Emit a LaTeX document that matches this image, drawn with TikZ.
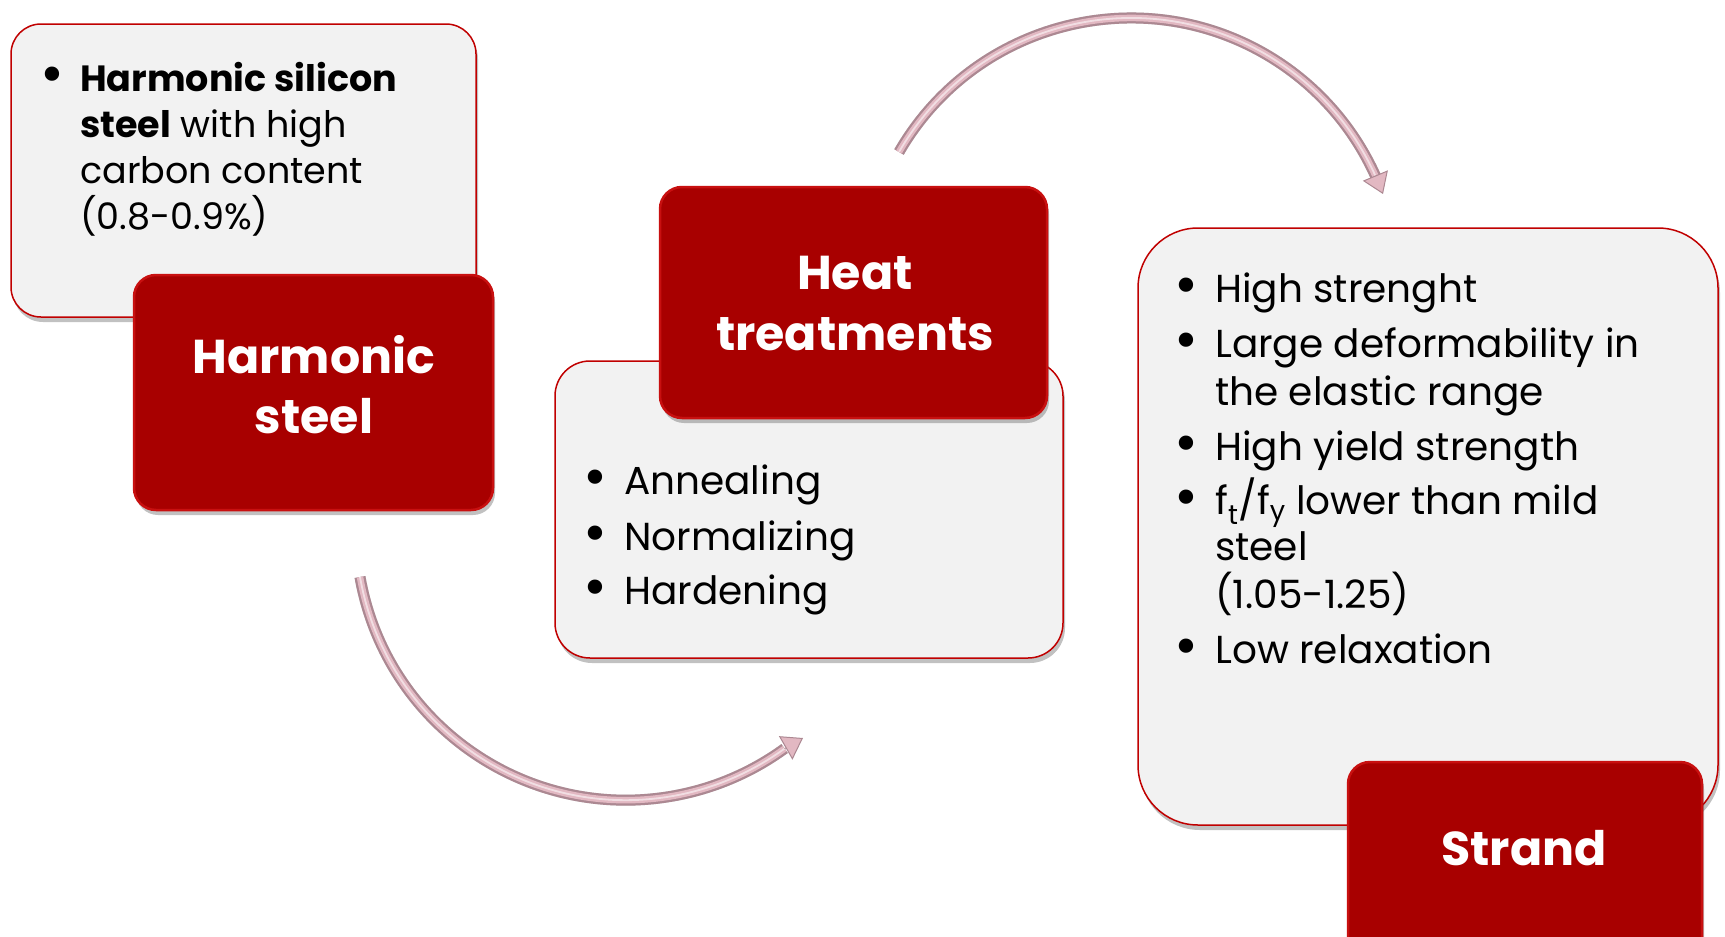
\documentclass[tikz,border=0pt]{standalone}
\usepackage{fontspec}
\setmainfont{Poppins}
\usetikzlibrary{shadows,arrows.meta}
\definecolor{boxfill}{RGB}{242,242,242}
\definecolor{boxline}{RGB}{192,0,0}
\definecolor{redfill}{RGB}{168,0,0}
\definecolor{redrim}{RGB}{200,16,16}
\definecolor{tubeout}{RGB}{172,136,146}
\definecolor{tubein}{RGB}{226,184,194}
\tikzset{
  lightbox/.style={fill=boxfill, draw=boxline, line width=1.5pt, inner sep=0pt,
    drop shadow={opacity=0.35, shadow xshift=2pt, shadow yshift=-5pt, fill=black!70}},
  redbox/.style={fill=redfill, draw=redrim, line width=2.5pt, inner sep=0pt, rounded corners=22pt,
    drop shadow={opacity=0.35, shadow xshift=2pt, shadow yshift=-5pt, fill=black!70}},
  ltxt/.style={anchor=base west, inner sep=0pt, font=\fontsize{39}{47}\selectfont},
  stxt/.style={anchor=base west, inner sep=0pt, font=\fontsize{36.5}{46}\selectfont},
  bdot/.style={anchor=base, inner sep=0pt, font=\fontsize{58}{58}\selectfont},
  redtxt/.style={anchor=base, inner sep=0pt, text=white, font=\fontsize{47.5}{60}\selectfont\bfseries},
  tubeshadow/.style={line width=11pt, draw=black, opacity=0.16, line cap=butt},
  tubeo/.style={line width=11pt, draw=tubeout, line cap=butt},
  tubei/.style={line width=6.5pt, draw=tubein, line cap=butt},
  tubeh/.style={line width=1.8pt, draw=white, opacity=0.55, line cap=butt},
  tubehead/.style={line width=1pt, draw=tubeout, -{Triangle[length=20pt, width=27pt, fill=tubein]}},
}
\begin{document}
\begin{tikzpicture}[x=1pt,y=-1pt]
\useasboundingbox (0,0) rectangle (1725,937);
\clip (0,0) rectangle (1725,937);

% ---------- arrows ----------
\coordinate (a1s) at (360,577);
\coordinate (a1t) at (803,738);
\coordinate (a2s) at (899,152);
\coordinate (a2t) at (1383,194);
\begin{scope}[xshift=3pt, yshift=-4pt]
  \draw[tubeshadow] (a1s) arc[start angle=170, end angle=54, radius=270];
  \draw[tubeshadow] (a2s) arc[start angle=210, end angle=336, radius=268];
\end{scope}
\draw[tubeo] (a1s) arc[start angle=170, end angle=54, radius=270] coordinate (a1e);
\draw[tubei] (a1s) arc[start angle=170, end angle=54, radius=270];
\draw[tubeh] (a1s) arc[start angle=170, end angle=54, radius=270];
\draw[tubehead] (a1e) -- (a1t);
\draw[tubeo] (a2s) arc[start angle=210, end angle=336, radius=268] coordinate (a2e);
\draw[tubei] (a2s) arc[start angle=210, end angle=336, radius=268];
\draw[tubeh] (a2s) arc[start angle=210, end angle=336, radius=268];
\draw[tubehead] (a2e) -- (a2t);

% ---------- box 1 ----------
\node[lightbox, rounded corners=30pt, minimum width=465pt, minimum height=293pt] (box1) at (243.5,170.5) {};
\node[redbox, minimum width=359pt, minimum height=235pt] (red1) at (313.5,392.5) {};
\node[bdot] (b1a) at (52,93) {\textbullet};
\node[stxt] (t1a) at (80,91) {\textbf{Harmonic silicon}};
\node[stxt] (t1b) at (80,137) {\textbf{steel} with high};
\node[stxt] (t1c) at (80,183) {carbon content};
\node[stxt] (t1d) at (80,229) {(0.8-0.9\%)};
\node[redtxt] (r1a) at (314,373) {Harmonic};
\node[redtxt] (r1b) at (314,433) {steel};

% ---------- box 2 ----------
\node[lightbox, rounded corners=35pt, minimum width=508pt, minimum height=297pt] (box2) at (809,509.5) {};
\node[redbox, minimum width=387pt, minimum height=231pt] (red2) at (853.5,302.5) {};
\node[redtxt] (r2a) at (855,289) {Heat};
\node[redtxt] (r2b) at (855,350) {treatments};
\node[bdot] (b2a) at (595,496) {\textbullet};
\node[ltxt] (t2a) at (624,494) {Annealing};
\node[bdot] (b2b) at (595,552) {\textbullet};
\node[ltxt] (t2b) at (624,550) {Normalizing};
\node[bdot] (b2c) at (595,606) {\textbullet};
\node[ltxt] (t2c) at (624,604) {Hardening};

% ---------- box 3 ----------
\node[lightbox, rounded corners=60pt, minimum width=580pt, minimum height=597pt] (box3) at (1428,526.5) {};
\node[redbox, minimum width=354pt, minimum height=233pt] (red3) at (1525,878.5) {};
\node[redtxt] (r3a) at (1524,865) {Strand};
\node[bdot] (b3a) at (1186,304) {\textbullet};
\node[ltxt] (t3a) at (1215,302) {High strenght};
\node[bdot] (b3b) at (1186,359) {\textbullet};
\node[ltxt] (t3b) at (1215,357) {Large deformability in};
\node[ltxt] (t3c) at (1215,405) {the elastic range};
\node[bdot] (b3d) at (1186,462) {\textbullet};
\node[ltxt] (t3d) at (1215,460) {High yield strength};
\node[bdot] (b3e) at (1186,516) {\textbullet};
\node[ltxt] (t3e) at (1215,514) {f\textsubscript{t}/f\textsubscript{y} lower than mild};
\node[ltxt] (t3f) at (1215,560) {steel};
\node[ltxt] (t3g) at (1215,608) {(1.05-1.25)};
\node[bdot] (b3h) at (1186,665) {\textbullet};
\node[ltxt] (t3h) at (1215,663) {Low relaxation};
\end{tikzpicture}
\end{document}
